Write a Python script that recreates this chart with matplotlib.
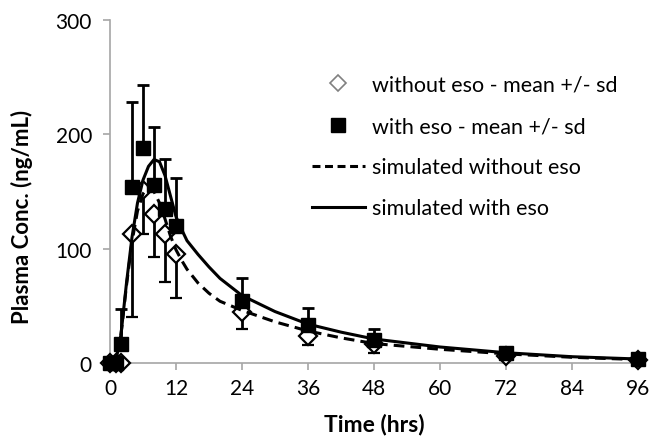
import matplotlib
matplotlib.use("Agg")
import matplotlib.pyplot as plt
from matplotlib.lines import Line2D

plt.rcParams['font.family'] = ['Lato', 'DejaVu Sans']

# observed data, without esomeprazole (mean, lower sd)
t_without = [0, 1, 2, 4, 6, 8, 10, 12, 24, 36, 48, 72, 96]
conc_without = [0, 0, 0, 113, 151, 130, 113, 95, 45, 24, 17, 6, 3]
sd_without = [0, 0, 0, 73, 38, 37, 42, 38, 15, 8, 8, 0, 0]

# observed data, with esomeprazole (mean, upper sd)
t_with = [0, 1, 2, 4, 6, 8, 10, 12, 24, 36, 48, 72, 96]
conc_with = [0, 0, 17, 154, 188, 156, 135, 120, 54, 33, 20, 9, 3.5]
sd_with = [0, 0, 30, 74, 55, 50, 43, 42, 20, 15, 10, 0, 0]

# simulated profiles
t_sim = [0, 1, 2, 3, 4, 5, 6, 7, 8, 9, 10, 11, 12, 13, 14, 16, 18, 20, 24,
         30, 36, 42, 48, 60, 72, 84, 96]
sim_without = [0, 0, 25, 68, 106, 133, 148, 154, 150, 140, 126, 111, 99, 90,
               82, 70, 61, 54, 46, 36, 28, 22, 17, 12, 8, 5, 3]
sim_with = [0, 0, 25, 70, 110, 140, 160, 172, 178, 176, 164, 146, 128, 117,
            107, 95, 84, 74, 59, 45, 34, 27, 21, 14, 9, 5.5, 3.5]

fig = plt.figure(figsize=(6.52, 4.39), dpi=100)
ax = fig.add_axes([110 / 652, 75 / 439, 528 / 652, 343 / 439])

ax.errorbar(t_without, conc_without, yerr=[sd_without, [0] * len(sd_without)],
            fmt='D', color='black', mfc='white', mec='black', mew=1.6, ms=9.5,
            ecolor='black', elinewidth=2, capsize=4, capthick=2,
            clip_on=False, zorder=3)
ax.errorbar(t_with, conc_with, yerr=[[0] * len(sd_with), sd_with],
            fmt='s', color='black', mfc='black', mec='black', ms=9.5,
            ecolor='black', elinewidth=2, capsize=4, capthick=2,
            clip_on=False, zorder=3)
ax.plot(t_sim, sim_without, color='black', lw=2.2, ls=(0, (3.5, 2)), zorder=4)
ax.plot(t_sim, sim_with, color='black', lw=2.2, zorder=4)

ax.set_xlim(0, 96)
ax.set_ylim(0, 300)
ax.set_xticks(range(0, 97, 12))
ax.set_yticks([0, 100, 200, 300])
for s in ['top', 'right']:
    ax.spines[s].set_visible(False)
for s in ['left', 'bottom']:
    ax.spines[s].set_color('#a6a6a6')
    ax.spines[s].set_linewidth(1.2)
ax.tick_params(colors='#a6a6a6', labelcolor='black', labelsize=15,
               length=5, width=1.2, direction='out')
ax.tick_params(axis='x', pad=6)
ax.tick_params(axis='y', pad=8)

ax.set_xlabel('Time (hrs)', fontsize=16.5, fontweight='bold', labelpad=10)
ax.set_ylabel('Plasma Conc. (ng/mL)', fontsize=16, fontweight='bold')
ax.yaxis.set_label_coords(-0.146, 0.43)

handles = [
    Line2D([], [], ls='none', marker='D', mfc='white', mec='#808080', mew=1.2, ms=8),
    Line2D([], [], ls='none', marker='s', color='black', ms=10),
    Line2D([], [], color='black', lw=2.2, ls=(0, (2.6, 1.5))),
    Line2D([], [], color='black', lw=2.2),
]
labels = ['without eso - mean +/- sd', 'with eso - mean +/- sd',
          'simulated without eso', 'simulated with eso']
ax.legend(handles, labels, loc='upper left', frameon=False, fontsize=15.5,
          bbox_to_anchor=(312 / 652, 1 - 76 / 439), bbox_transform=fig.transFigure,
          borderpad=0, borderaxespad=0, handlelength=2.45, handletextpad=0.33,
          labelspacing=0.98)

fig.savefig('out.png', dpi=100)
